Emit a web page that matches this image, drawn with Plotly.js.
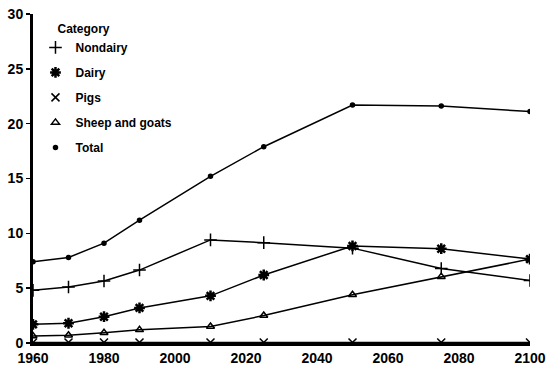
<!DOCTYPE html>
<html><head><meta charset="utf-8">
<script src="https://cdn.plot.ly/plotly-3.0.1.min.js"></script>
<style>html,body{margin:0;padding:0;background:#fff}#c{width:550px;height:365px}</style>
</head><body><div id="c"></div>
<script>
const years = [1960, 1970, 1980, 1990, 2010, 2025, 2050, 2075, 2100];
const nondairy = [4.8, 5.1, 5.65, 6.65, 9.4, 9.15, 8.65, 6.8, 5.7];
const dairy = [1.7, 1.8, 2.4, 3.2, 4.3, 6.2, 8.85, 8.6, 7.65];
const pigs = [0.05, 0.05, 0.05, 0.05, 0.05, 0.05, 0.05, 0.05, 0.05];
const sheep = [0.64, 0.7, 0.94, 1.2, 1.5, 2.5, 4.4, 6.05, 7.65];
const total = [7.4, 7.8, 9.1, 11.2, 15.2, 17.9, 21.7, 21.6, 21.1];
const names = ["Nondairy", "Dairy", "Pigs", "Sheep and goats", "Total"];
const series = [nondairy, dairy, pigs, sheep, total];
const symbols = ["cross-thin-open", "asterisk-open", "x-thin-open", "triangle-up-open", "circle"];
const sizes = [9, 9, 8, 7, 4];

const traces = [];
series.forEach((s, i) => {
  traces.push({x: years, y: s, mode: "lines", showlegend: false, hoverinfo: "skip",
    line: {color: "#000", width: 1.5}});
});
series.forEach((s, i) => {
  traces.push({x: years, y: s, mode: "markers", name: names[i], legendgroup: "g" + i,
    marker: {symbol: symbols[i], size: sizes[i], color: "#000",
      line: {color: "#000", width: i === 1 ? 2.5 : 1.5}}});
});

const tickFont = {family: "Liberation Sans Narrow, Arial Narrow, sans-serif", size: 14, color: "#000", weight: "bold"};
Plotly.newPlot("c", traces, {
  width: 550, height: 365,
  margin: {l: 33, r: 20, t: 14, b: 22},
  paper_bgcolor: "#fff", plot_bgcolor: "#fff",
  showlegend: true,
  legend: {x: 0.005, y: 0.99, xanchor: "left", yanchor: "top", traceorder: "grouped", tracegroupgap: 6,
    title: {text: "&nbsp;&nbsp;&nbsp;&nbsp;&nbsp;&nbsp;Category", font: {family: "Liberation Sans, Arial, sans-serif", size: 12, color: "#000", weight: "bold"}},
    font: {family: "Liberation Sans, Arial, sans-serif", size: 12, color: "#000", weight: "bold"},
    bgcolor: "rgba(0,0,0,0)"},
  xaxis: {range: [1960, 2100], tickvals: [1960, 1980, 2000, 2020, 2040, 2060, 2080, 2100],
    showgrid: false, zeroline: false, showline: true, linecolor: "#000", linewidth: 3,
    ticks: "", tickfont: tickFont, ticklen: 0},
  yaxis: {range: [0, 30], tickvals: [0, 5, 10, 15, 20, 25, 30],
    showgrid: false, zeroline: false, showline: true, linecolor: "#000", linewidth: 3,
    ticks: "outside", ticklen: 4, tickcolor: "#000", tickwidth: 1.5, tickfont: tickFont}
}, {staticPlot: true});
</script></body></html>
